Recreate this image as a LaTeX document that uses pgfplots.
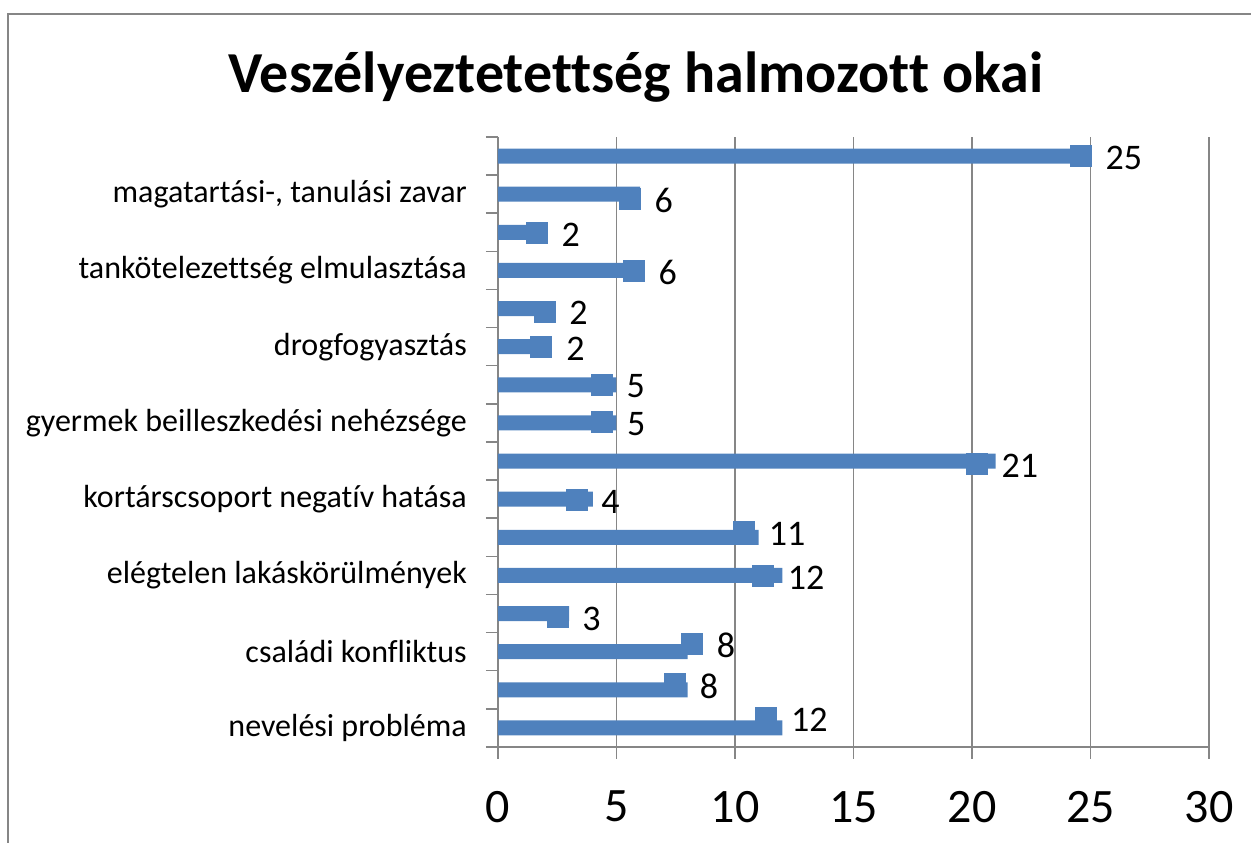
\documentclass[border=0pt]{standalone}
\usepackage{pgfplots}
\pgfplotsset{compat=1.18}
\usepackage{fontspec}
\setmainfont{Carlito}[Ligatures=NoCommon]
\definecolor{barblue}{RGB}{79,129,189}
\definecolor{gridgray}{RGB}{134,134,134}
\begin{document}
\begin{tikzpicture}
\begin{axis}[
  at={(498pt,96pt)}, anchor=south west,
  scale only axis, width=711pt, height=610pt,
  xmin=0, xmax=30, ymin=-0.5, ymax=15.5,
  axis x line=bottom, axis y line=left,
  axis line style={gridgray, line width=1.5pt, -},
  xtick={0,5,...,30},
  xmajorgrids, grid style={gridgray, line width=1.5pt},
  tick align=outside, major tick length=12pt,
  tick style={gridgray, line width=1.5pt},
  /pgf/number format/assume math mode=true,
  xticklabel style={font=\fontsize{48}{56}\selectfont, inner sep=0pt, yshift=-32pt},
  ytick={-0.5,0.5,...,15.5},
  yticklabel={\mbox{}},
  extra y ticks={0,2,...,14},
  extra y tick labels={nevelési probléma,családi konfliktus,elégtelen lakáskörülmények,kortárscsoport negatív hatása,gyermek beilleszkedési nehézsége,drogfogyasztás,tankötelezettség elmulasztása,{magatartási-, tanulási zavar}},
  extra y tick style={tick style={draw=none}, yticklabel style={font=\fontsize{32}{38}\selectfont, anchor=east, inner sep=0pt, xshift=-19pt}},
  clip=false,
]
\addplot[xbar, bar shift=0pt, bar width=15pt, fill=barblue, draw=none]
  coordinates {(12,0) (8,1) (8,2) (3,3) (12,4) (11,5) (4,6) (21,7) (5,8) (5,9) (2,10) (2,11) (6,12) (2,13) (6,14) (25,15)};
\addplot[only marks, mark=square*, mark size=10.5pt, color=barblue, mark options={draw=none, fill=barblue},
  point meta=explicit symbolic, nodes near coords,
  nodes near coords style={font=\fontsize{36}{42}\selectfont, anchor=west, inner sep=0pt, xshift=25pt, yshift=-2pt, text=black}]
  coordinates {(11.30,0.27) [12] (7.45,1.15) [8] (8.17,2.21) [8] (2.50,2.92) [3] (11.17,4.0) [12] (10.37,5.14) [11] (3.30,5.99) [4] (20.19,6.94) [21] (4.39,8.02) [5] (4.36,9.01) [5] (1.82,10.0) [2] (1.95,10.93) [2] (5.71,12.0) [6] (1.62,12.99) [2] (5.55,13.89) [6] (24.57,15.0) [25]};
\end{axis}
\draw[gridgray, line width=1.5pt] (8pt,-5pt) -- (8pt,829pt) -- (1260pt,829pt);
\node[anchor=base, font=\bfseries\fontsize{58}{66}\selectfont, inner sep=0pt] at (636pt,750pt) {Veszélyeztetettség halmozott okai};
\pgfresetboundingbox
\path[use as bounding box] (0,0) rectangle (1251pt,843pt);
\end{tikzpicture}
\end{document}
